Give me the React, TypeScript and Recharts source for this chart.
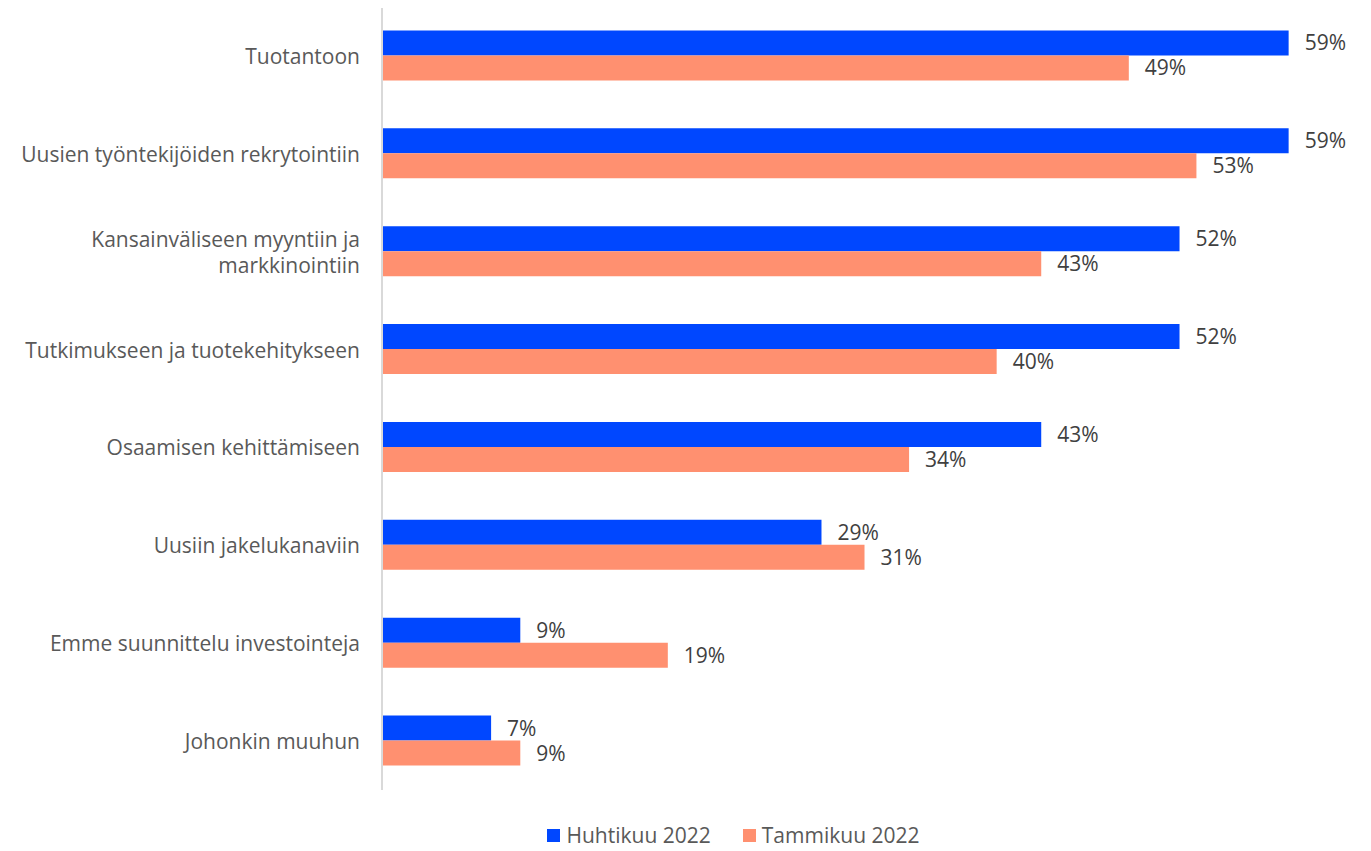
import { BarChart, Bar, XAxis, YAxis, Legend, LabelList } from 'recharts'

const categories = [
  'Tuotantoon',
  'Uusien työntekijöiden rekrytointiin',
  'Kansainväliseen myyntiin ja markkinointiin',
  'Tutkimukseen ja tuotekehitykseen',
  'Osaamisen kehittämiseen',
  'Uusiin jakelukanaviin',
  'Emme suunnittelu investointeja',
  'Johonkin muuhun',
]
// labels show them rounded
const huhtikuu = [59, 59, 51.9, 51.9, 42.9, 28.6, 9, 7.1]
const tammikuu = [48.6, 53, 42.9, 40, 34.3, 31.4, 18.6, 9]

const data = categories.map((name, i) => ({ name, huhtikuu: huhtikuu[i], tammikuu: tammikuu[i] }))

const font = "'Open Sans', sans-serif"
const BLUE = '#0047FF'
const ORANGE = '#FF9070'

const pct = (v: any) => Math.round(Number(v)) + '%'

// break long labels the way the original wraps them
function wrap(label: string, maxChars = 36) {
  const lines: string[] = []
  let cur = ''
  for (const w of label.split(' ')) {
    const next = cur ? cur + ' ' + w : w
    if (next.length > maxChars && cur) {
      lines.push(cur)
      cur = w
    } else {
      cur = next
    }
  }
  lines.push(cur)
  return lines
}

function CategoryTick({ x, y, payload }: any) {
  const lines = wrap(payload.value)
  const lh = 26
  const startY = y - ((lines.length - 1) * lh) / 2
  return (
    <text x={x} y={startY} textAnchor='end' fill='#595959' fontSize={21} fontFamily={font} dominantBaseline='central'>
      {lines.map((l, i) => (
        <tspan key={i} x={x} y={startY + i * lh}>
          {l}
        </tspan>
      ))}
    </text>
  )
}

function LegendRow({ payload }: any) {
  return (
    <div
      style={{
        display: 'flex',
        justifyContent: 'center',
        gap: 32,
        paddingLeft: 96,
        fontFamily: font,
        fontSize: 21,
        color: '#595959',
      }}
    >
      {payload.map((p: any) => (
        <div key={p.value} style={{ display: 'flex', alignItems: 'center' }}>
          <span style={{ width: 13, height: 13, background: p.color, marginRight: 6, display: 'inline-block' }} />
          {p.value}
        </div>
      ))}
    </div>
  )
}

export default function App() {
  return (
    <BarChart
      width={1355}
      height={843}
      layout='vertical'
      data={data}
      margin={{ top: -1, right: 59, bottom: 0, left: 0 }}
      barCategoryGap='24%'
      barGap={0}
    >
      <XAxis type='number' domain={[0, 60]} hide />
      <YAxis
        type='category'
        dataKey='name'
        width={374}
        tick={<CategoryTick />}
        tickLine={false}
        tickMargin={16}
        axisLine={{ stroke: '#D9D9D9', strokeWidth: 2 }}
      />
      <Legend
        verticalAlign='bottom'
        height={61}
        content={<LegendRow />}
        wrapperStyle={{ position: 'absolute', top: 813, left: 0, width: 1355 }}
      />
      <Bar dataKey='huhtikuu' name='Huhtikuu 2022' fill={BLUE} isAnimationActive={false}>
        <LabelList dataKey='huhtikuu' position='right' offset={16} formatter={pct} fill='#404040' fontSize={21} fontFamily={font} />
      </Bar>
      <Bar dataKey='tammikuu' name='Tammikuu 2022' fill={ORANGE} isAnimationActive={false}>
        <LabelList dataKey='tammikuu' position='right' offset={16} formatter={pct} fill='#404040' fontSize={21} fontFamily={font} />
      </Bar>
    </BarChart>
  )
}
